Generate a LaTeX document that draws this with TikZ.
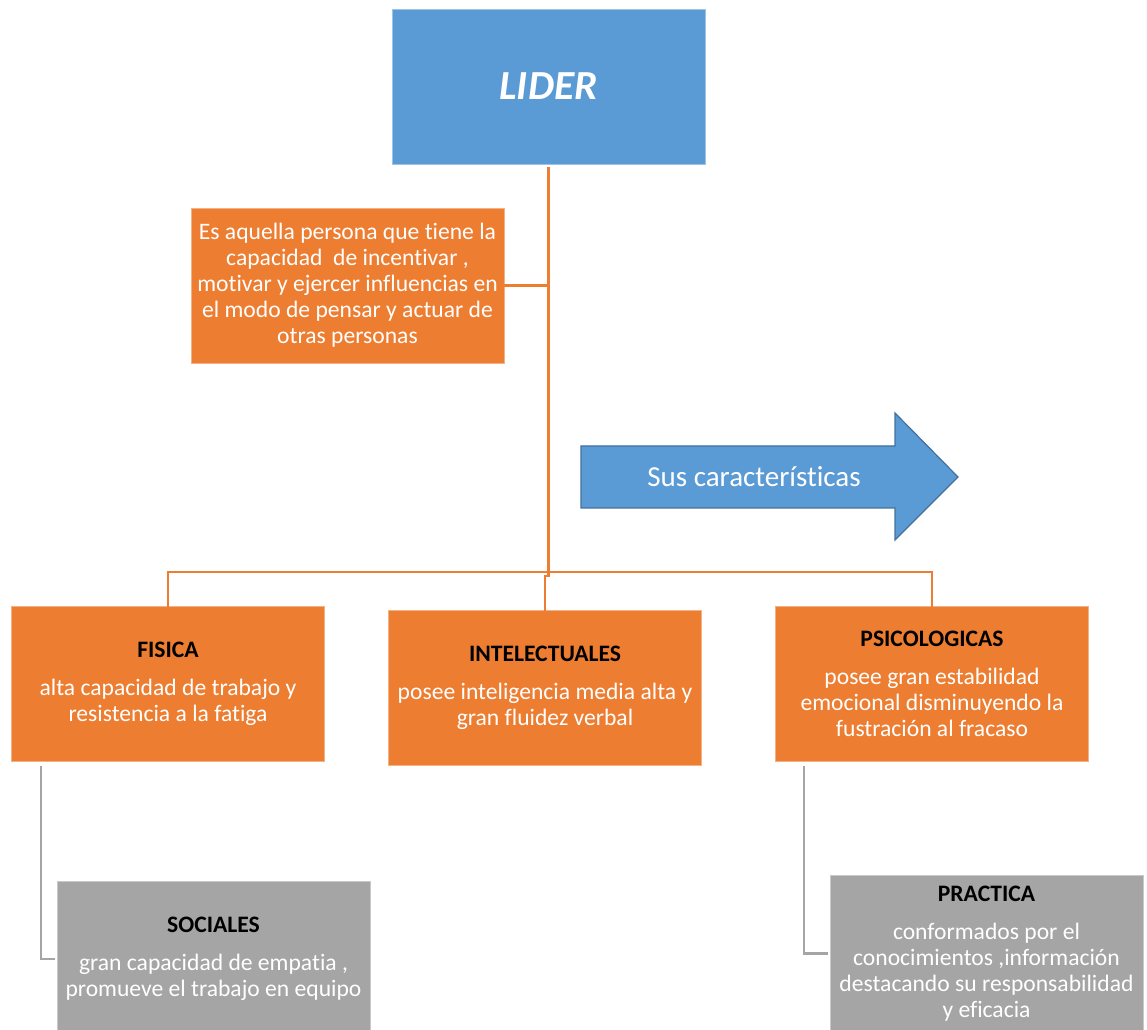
\documentclass[tikz,border=0pt]{standalone}
\usepackage{fontspec}
\setmainfont{Carlito}[Ligatures={NoCommon,NoContextual},RawFeature={-liga;-clig;-calt;-dlig}]
\usepackage{tikz}
\definecolor{liderblue}{RGB}{91,155,213}
\definecolor{arrowedge}{RGB}{65,113,156}
\definecolor{traitorange}{RGB}{237,125,49}
\definecolor{traitgray}{RGB}{165,165,165}
\newcommand{\trait}[1]{{\bfseries\color{black}#1}\\[9pt]}

\begin{document}
\begin{tikzpicture}[x=0.75pt,y=-0.75pt,
  every node/.style={font=\fontsize{17.7}{19.5}\selectfont,align=center,inner sep=0pt},
  card/.style={text=white,line width=0.6pt,minimum width=234.75pt,minimum height=116.25pt},
  orangecard/.style={card,fill=traitorange,draw=traitorange!60!white},
  graycard/.style={card,fill=traitgray,draw=traitgray!60!white,minimum height=117pt},
  orangelink/.style={draw=traitorange,line width=1.65pt},
  graylink/.style={draw=traitgray,line width=1.8pt}]
  \useasboundingbox (0,0) rectangle (1147,1030);
  \node[card,fill=liderblue,draw=liderblue!60!white,
    font=\fontsize{31}{36}\selectfont\bfseries\itshape] (lider) at (548.5,86.5) {LIDER};
  \node[orangecard] (def) at (347.5,285.5)
    {Es aquella persona que tiene la\\capacidad\ \ de incentivar ,\\motivar y ejercer influencias en\\el modo de pensar y actuar de\\otras personas};
  % flecha
  \fill[liderblue,draw=arrowedge,line width=0.9pt]
    (581,446) -- (895,446) -- (895,413) -- (958,477) -- (895,540) -- (895,508) -- (581,508) -- cycle;
  \node[text=white,font=\fontsize{21.75}{26}\selectfont] (caract) at (754,477) {Sus características};
  \node[orangecard] (fisica) at (168,684)
    {\trait{FISICA}alta capacidad de trabajo y\\resistencia a la fatiga};
  \node[orangecard] (intel) at (545,688)
    {\trait{INTELECTUALES}posee inteligencia media alta y\\gran fluidez verbal};
  \node[orangecard] (psico) at (932,684)
    {\trait{PSICOLOGICAS}posee gran estabilidad\\emocional disminuyendo la\\fustración al fracaso};
  \node[graycard] (sociales) at (213.5,959)
    {\trait{SOCIALES}gran capacidad de empatia ,\\promueve el trabajo en equipo};
  \node[graycard] (practica) at (986.5,953.5)
    {\trait{PRACTICA}conformados por el\\conocimientos ,información\\destacando su responsabilidad\\y eficacia};
  \coordinate (hub) at (548.5,572);
  \draw[orangelink] ([yshift=-2pt]lider.south) -- (hub);
  \draw[orangelink] (def.east) -- (def.east -| lider.south);
  \draw[orangelink] ([yshift=-1.5pt]fisica.north) |- (hub) -| ([yshift=-1.5pt]psico.north);
  \draw[orangelink] (hub) -- ++(0,4) -| ([yshift=-1.5pt]intel.north);
  \draw[graylink] ([xshift=22.5pt,yshift=-3pt]fisica.south west) |- ([xshift=-1.5pt]sociales.west);
  \draw[graylink] ([xshift=21.75pt,yshift=-3pt]psico.south west) |- ([xshift=-1.5pt]practica.west);
\end{tikzpicture}
\end{document}
